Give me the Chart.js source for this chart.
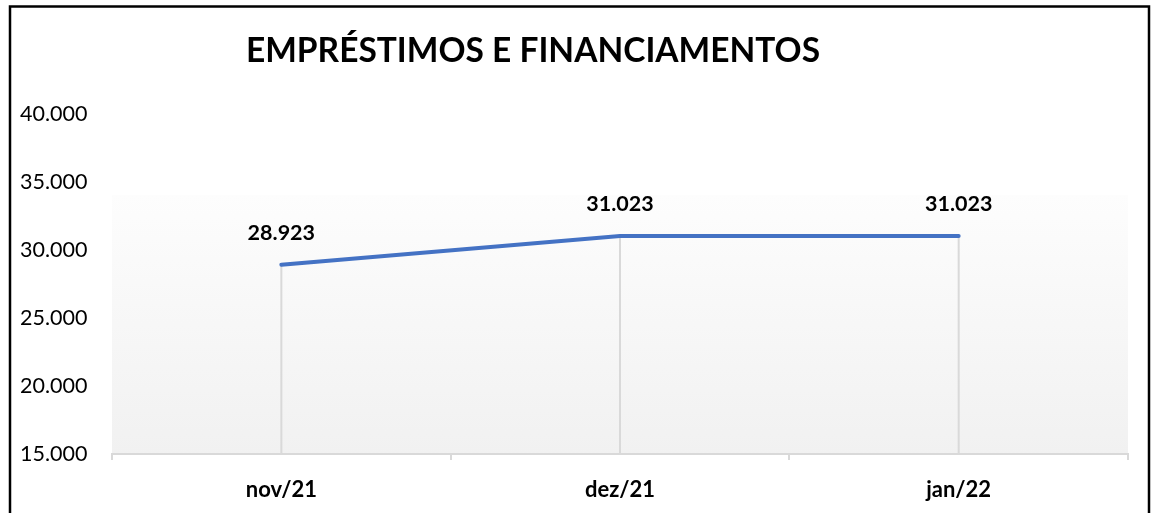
<!DOCTYPE html>
<html lang="pt-BR">
  <head>
    <meta charset="UTF-8" />
    <title>Empréstimos e Financiamentos</title>
    <script src="https://cdn.jsdelivr.net/npm/chart.js@4.4.0/dist/chart.umd.min.js"></script>
    <style>
      body {
        margin: 0;
        background-color: white;
      }
      #chart-box {
        width: 1154px;
        height: 513px;
      }
    </style>
  </head>
  <body>
    <div id="chart-box">
      <canvas id="line-chart" width="1154" height="513"></canvas>
    </div>
    <script>
      const chartTitle = "EMPRÉSTIMOS E FINANCIAMENTOS";
      const categories = ["nov/21", "dez/21", "jan/22"];
      const values = [28923, 31023, 31023];
      const yMin = 15000;
      const yMax = 40000;
      const yStep = 5000;

      const FONT = "Lato";

      function fmt(n) {
        return String(Math.round(n)).replace(/\B(?=(\d{3})+(?!\d))/g, ".");
      }

      // fundo em degrade, linhas de queda, rotulos, titulo e moldura
      const decor = {
        id: "decor",
        beforeDraw(chart) {
          const { ctx, chartArea } = chart;
          const top = chartArea.top + 81;
          const g = ctx.createLinearGradient(0, top, 0, chartArea.bottom);
          g.addColorStop(0, "#fdfdfd");
          g.addColorStop(1, "#f1f1f1");
          ctx.save();
          ctx.fillStyle = g;
          ctx.fillRect(chartArea.left, top, chartArea.right - chartArea.left, chartArea.bottom - top);
          ctx.restore();
        },
        beforeDatasetsDraw(chart) {
          const { ctx, chartArea } = chart;
          const meta = chart.getDatasetMeta(0);
          ctx.save();
          ctx.strokeStyle = "#d9d9d9";
          ctx.lineWidth = 2;
          meta.data.forEach((pt) => {
            ctx.beginPath();
            ctx.moveTo(pt.x, pt.y);
            ctx.lineTo(pt.x, chartArea.bottom);
            ctx.stroke();
          });
          ctx.restore();
        },
        afterDatasetsDraw(chart) {
          const { ctx } = chart;
          const meta = chart.getDatasetMeta(0);
          ctx.save();
          ctx.fillStyle = "#000";
          ctx.font = "bold 21.5px " + FONT;
          ctx.textAlign = "center";
          ctx.textBaseline = "middle";
          meta.data.forEach((pt, i) => {
            ctx.fillText(fmt(values[i]), pt.x, pt.y - 32);
          });
          ctx.restore();
        },
        afterDraw(chart) {
          const { ctx } = chart;
          ctx.save();
          ctx.fillStyle = "#000";
          ctx.font = "bold 33.5px " + FONT;
          ctx.textAlign = "center";
          ctx.textBaseline = "middle";
          ctx.fillText(chartTitle, 533, 51);
          ctx.strokeStyle = "#000";
          ctx.lineWidth = 2.5;
          ctx.strokeRect(10, 6.5, 1139, 600);
          ctx.restore();
        },
      };

      new Chart(document.getElementById("line-chart"), {
        type: "line",
        data: {
          labels: categories,
          datasets: [
            {
              data: values,
              borderColor: "#4472c4",
              borderWidth: 4,
              borderCapStyle: "round",
              pointRadius: 0,
              pointHoverRadius: 0,
              tension: 0,
              fill: false,
            },
          ],
        },
        options: {
          responsive: false,
          animation: false,
          layout: {
            padding: { left: 20, right: 26, top: 114, bottom: 0 },
          },
          plugins: {
            legend: { display: false },
            title: { display: false },
            tooltip: { enabled: false },
          },
          scales: {
            x: {
              offset: true,
              afterFit(scale) {
                scale.height = 59;
              },
              grid: {
                offset: true,
                drawOnChartArea: false,
                drawTicks: true,
                tickLength: 6,
                color: "#d9d9d9",
                lineWidth: 2,
              },
              border: { color: "#d9d9d9", width: 2 },
              ticks: {
                color: "#000",
                padding: 17,
                font: { family: FONT, size: 22, weight: "bold" },
              },
            },
            y: {
              min: yMin,
              max: yMax,
              afterFit(scale) {
                scale.width = 92;
              },
              grid: { display: false },
              border: { display: false },
              ticks: {
                stepSize: yStep,
                crossAlign: "far",
                color: "#000",
                font: { family: FONT, size: 21.5 },
                callback: (v) => fmt(v),
              },
            },
          },
        },
        plugins: [decor],
      });
    </script>
  </body>
</html>
